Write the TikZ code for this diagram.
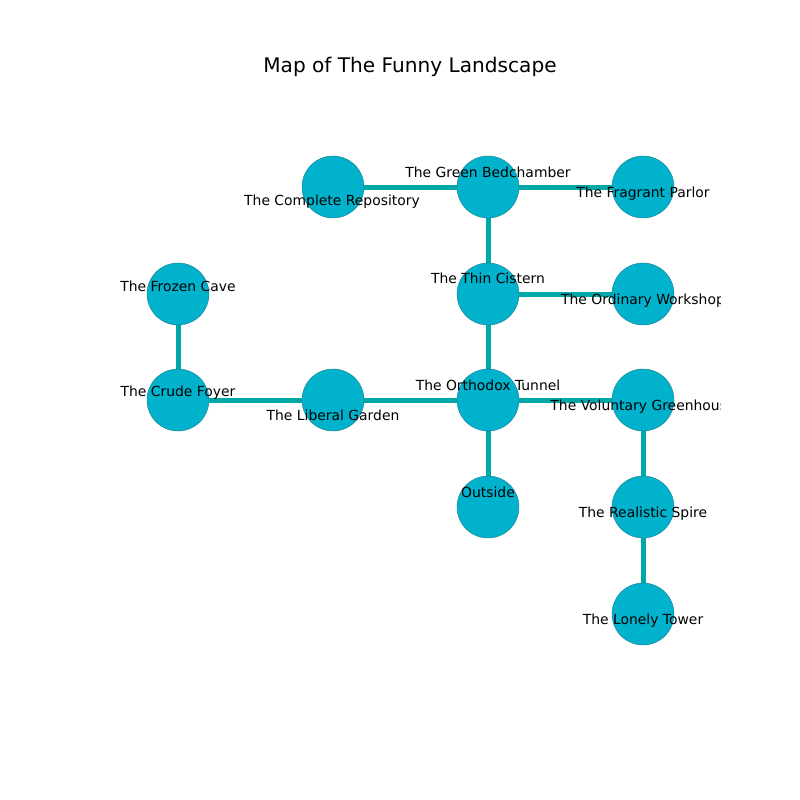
\documentclass[tikz,border=0pt]{standalone}
\usepackage{fontspec}
\setmainfont{DejaVu Sans}
\definecolor{nodefill}{RGB}{0,178,204}
\definecolor{nodeedge}{RGB}{30,120,140}
\definecolor{edgecol}{RGB}{0,168,168}
\tikzset{
  room/.style={circle, fill=nodefill, draw=nodeedge, line width=0.4pt, minimum size=62pt, inner sep=0pt},
  link/.style={draw=edgecol, line width=5pt},
  lbl/.style={font=\fontsize{13.9}{16}\selectfont, inner sep=0pt, text=black, yshift=-1pt},
}
\begin{document}
\begin{tikzpicture}[x=1pt,y=-1pt]
\useasboundingbox (0,0) rectangle (800,800);
\fill[white] (0,0) rectangle (800,800);
\node[font=\fontsize{20.1}{24}\selectfont, inner sep=0pt] (title) at (410,67) {Map of The Funny Landscape};
\begin{scope}
\clip (100,96) rectangle (720,712);
\coordinate (cr) at (333,187);
\coordinate (gb) at (488,187);
\coordinate (fp) at (643,187);
\coordinate (fc) at (178,294);
\coordinate (tc) at (488,294);
\coordinate (ow) at (643,294);
\coordinate (cf) at (178,400);
\coordinate (lg) at (333,400);
\coordinate (ot) at (488,400);
\coordinate (vg) at (643,400);
\coordinate (os) at (488,507);
\coordinate (rs) at (643,507);
\coordinate (lt) at (643,614);
\draw[link] (cr) -- (gb);
\draw[link] (gb) -- (fp);
\draw[link] (gb) -- (tc);
\draw[link] (tc) -- (ow);
\draw[link] (tc) -- (ot);
\draw[link] (fc) -- (cf);
\draw[link] (cf) -- (lg);
\draw[link] (lg) -- (ot);
\draw[link] (ot) -- (vg);
\draw[link] (ot) -- (os);
\draw[link] (vg) -- (rs);
\draw[link] (rs) -- (lt);
\foreach \n in {cr,gb,fp,fc,tc,ow,cf,lg,ot,vg,os,rs,lt}{
  \node[room] (n\n) at (\n) {};
}
\node[lbl] (lcr) at (332,201) {The Complete Repository};
\node[lbl] (lgb) at (488,171) {The Green Bedchamber};
\node[lbl] (lfp) at (643,193) {The Fragrant Parlor};
\node[lbl] (lfc) at (178,285) {The Frozen Cave};
\node[lbl] (ltc) at (488,277) {The Thin Cistern};
\node[lbl] (low) at (643,300) {The Ordinary Workshop};
\node[lbl] (lcf) at (178,392) {The Crude Foyer};
\node[lbl] (llg) at (333,414) {The Liberal Garden};
\node[lbl] (lot) at (488,384) {The Orthodox Tunnel};
\node[lbl] (lvg) at (643,406) {The Voluntary Greenhouse};
\node[lbl] (los) at (488,491) {Outside};
\node[lbl] (lrs) at (643,513) {The Realistic Spire};
\node[lbl] (llt) at (643,620) {The Lonely Tower};
\end{scope}
\end{tikzpicture}
\end{document}
